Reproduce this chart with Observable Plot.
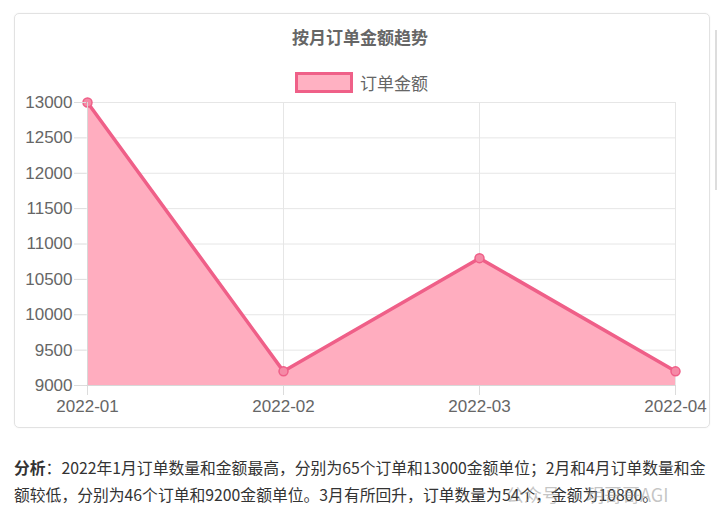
<!DOCTYPE html>
<html>
<head>
<meta charset="utf-8">
<script src="https://cdn.jsdelivr.net/npm/d3@7"></script>
<script src="https://cdn.jsdelivr.net/npm/@observablehq/plot@0.6"></script>
<style>
  html, body { margin: 0; padding: 0; background: #fff; width: 720px; height: 526px; overflow: hidden; }
  body { position: relative; font-family: "Liberation Sans", "Noto Sans CJK SC", sans-serif; }
  #card { position: absolute; left: 14px; top: 13px; width: 694px; height: 413px; border: 1px solid #e2e2e2; border-radius: 5px; box-shadow: 0 0 2px rgba(0,0,0,0.06); }
  #title { position: absolute; left: 0; width: 720px; top: 24px; text-align: center; font-size: 17px; font-weight: bold; color: #666; font-family: "Noto Sans CJK SC", sans-serif; }
  #legend { position: absolute; top: 70px; left: 295px; display: flex; align-items: center; font-size: 17px; color: #666; font-family: "Noto Sans CJK SC", sans-serif; }
  #legend .box { width: 52px; height: 15px; border: 3px solid #ef6088; background: #ffb1c2; margin-right: 7px; }
  #chart { position: absolute; left: 0; top: 92px; }
  #analysis { position: absolute; left: 14px; top: 454px; font-size: 15.8px; line-height: 27px; color: #333; white-space: nowrap; font-family: "Noto Sans CJK SC", sans-serif; }
  #analysis b { font-weight: bold; }
  #wm { position: absolute; left: 506px; top: 481px; font-size: 18px; color: rgba(140,140,140,0.5); font-family: "Noto Sans CJK SC", sans-serif; white-space: nowrap; }
  #scroll { position: absolute; left: 715px; top: 30px; width: 2px; height: 160px; background: #ddd; }
</style>
</head>
<body>
<div id="card"></div>
<div id="title"></div>
<div id="legend"><div class="box"></div><span id="legendLabel"></span></div>
<div id="chart"></div>
<div id="analysis"></div>
<div id="wm"></div>
<div id="scroll"></div>
<script>
const months = ["2022-01", "2022-02", "2022-03", "2022-04"];
const amounts = [13000, 9200, 10800, 9200];
const yTicks = [9000, 9500, 10000, 10500, 11000, 11500, 12000, 12500, 13000];
const titleText = "按月订单金额趋势";
const seriesName = "订单金额";

document.getElementById("title").textContent = titleText;
document.getElementById("legendLabel").textContent = seriesName;
document.getElementById("analysis").innerHTML =
  "<b>分析</b>：2022年1月订单数量和金额最高，分别为65个订单和13000金额单位；2月和4月订单数量和金<br>额较低，分别为46个订单和9200金额单位。3月有所回升，订单数量为54个，金额为10800。";
document.getElementById("wm").textContent = "公众号 · 玥哥哥AGI";

const data = months.map((m, i) => ({month: m, value: amounts[i]}));
const lineColor = "#ef5f88";

const chart = Plot.plot({
  width: 720,
  height: 328,
  marginTop: 10,
  marginBottom: 35,
  marginLeft: 86,
  marginRight: 44,
  style: { fontFamily: "'Liberation Sans', sans-serif", fontSize: "17px", color: "#666", background: "transparent" },
  x: { type: "point", domain: months, padding: 0, label: null },
  y: { domain: [9000, 13000], label: null },
  marks: [
    Plot.gridY(yTicks, { stroke: "#e6e6e6", strokeOpacity: 1 }),
    Plot.gridX(months, { stroke: "#e6e6e6", strokeOpacity: 1 }),
    Plot.areaY(data, { x: "month", y1: () => 9000, y2: "value", fill: "#ffadbf", fillOpacity: 1 }),
    Plot.lineY(data, { x: "month", y: "value", stroke: lineColor, strokeWidth: 3.5 }),
    Plot.dot(data, { x: "month", y: "value", r: 4.5, fill: "#f58aa6", stroke: lineColor, strokeWidth: 1.5 }),
    Plot.axisY(yTicks, { stroke: "#dcdcdc", color: "#666", tickSize: 12, tickPadding: 2, fontSize: 17, tickFormat: d => String(d) }),
    Plot.axisX(months, { stroke: "#dcdcdc", color: "#666", tickSize: 10, tickPadding: 4, fontSize: 17 }),
    Plot.ruleX([months[0]], { y1: 9000, y2: 13000, stroke: "#d8d8d8" }),
    Plot.ruleY([9000], { stroke: "#d8d8d8" })
  ]
});
document.getElementById("chart").appendChild(chart);
</script>
</body>
</html>
